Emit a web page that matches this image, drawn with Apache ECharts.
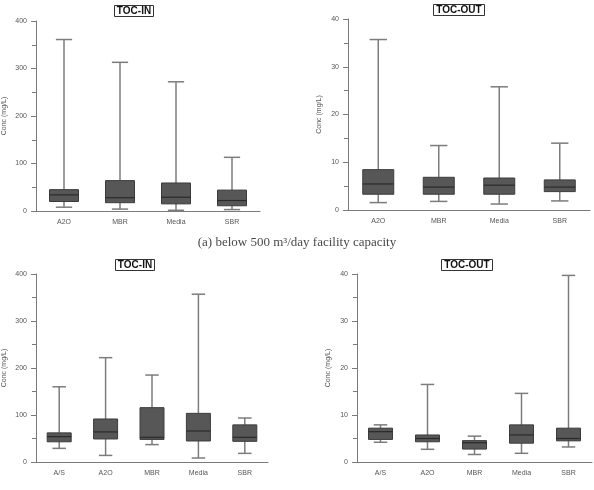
<!DOCTYPE html>
<html>
<head>
<meta charset="utf-8">
<script src="https://cdn.jsdelivr.net/npm/echarts@6/dist/echarts.min.js"></script>
<style>
  html, body { margin: 0; padding: 0; background: #fff; }
  #chart { width: 594px; height: 490px; }
</style>
</head>
<body>
<div id="chart"></div>
<script>
// categories
var catsSmall = ['A2O', 'MBR', 'Media', 'SBR'];
var catsLarge = ['A/S', 'A2O', 'MBR', 'Media', 'SBR'];

// [min, Q1, median, Q3, max] in mg/L
var tocInSmall = [
  [8, 20, 34, 45, 361],
  [4, 17.5, 28, 64, 313],
  [1.5, 15, 29, 59, 272],
  [3, 11, 22, 44, 113]
];
var tocOutSmall = [
  [1.55, 3.3, 5.45, 8.45, 35.7],
  [1.8, 3.3, 4.8, 6.85, 13.5],
  [1.25, 3.3, 5.2, 6.7, 25.8],
  [1.9, 3.85, 4.8, 6.3, 14.0]
];
var tocInLarge = [
  [29, 43, 54, 62, 160],
  [14, 49, 64, 91.5, 222],
  [37, 48, 52.5, 115.6, 185],
  [8.5, 44.7, 66, 103.5, 357],
  [18.4, 44, 52.5, 79, 93.6]
];
var tocOutLarge = [
  [4.2, 4.8, 6.45, 7.2, 7.9],
  [2.7, 4.3, 5.0, 5.75, 16.5],
  [1.6, 2.75, 4.1, 4.55, 5.5],
  [1.85, 4.0, 5.75, 7.9, 14.6],
  [3.2, 4.5, 5.0, 7.2, 39.7]
];

var inTicks = [0, 100, 200, 300, 400];
var outTicks = [0, 10, 20, 30, 40];

var chart = echarts.init(document.getElementById('chart'));

var axisGray = '#7a7a7a';
var labelGray = '#555';

function xAx(idx, cats) {
  return {
    type: 'category', gridIndex: idx, data: cats,
    axisLine: { lineStyle: { color: axisGray, width: 1 } },
    axisTick: { show: false },
    axisLabel: { fontSize: 7, color: labelGray, margin: 8, fontFamily: 'Liberation Sans' },
    splitLine: { show: false }
  };
}
function yAx(idx, ticks, gap) {
  return {
    type: 'value', gridIndex: idx,
    min: ticks[0], max: ticks[ticks.length - 1], interval: ticks[1] - ticks[0],
    name: 'Conc (mg/L)', nameLocation: 'middle', nameRotate: 90, nameGap: gap,
    nameTextStyle: { fontSize: 7, color: labelGray, fontFamily: 'Liberation Sans' },
    axisLine: { show: true, lineStyle: { color: axisGray, width: 1 } },
    axisTick: { show: true, length: 5, lineStyle: { color: axisGray } },
    minorTick: { show: true, splitNumber: 2, length: 4, lineStyle: { color: axisGray } },
    axisLabel: { fontSize: 7, color: labelGray, margin: 9, fontFamily: 'Liberation Sans' },
    splitLine: { show: false }
  };
}
// box-and-whisker drawn through the axis scales
function box(idx, rows, w) {
  return {
    type: 'custom', xAxisIndex: idx, yAxisIndex: idx,
    data: rows.map(function (r, i) { return [i].concat(r); }),
    encode: { x: 0, y: [1, 2, 3, 4, 5] },
    renderItem: function (params, api) {
      var i = api.value(0);
      var pMin = api.coord([i, api.value(1)]);
      var pQ1 = api.coord([i, api.value(2)]);
      var pMed = api.coord([i, api.value(3)]);
      var pQ3 = api.coord([i, api.value(4)]);
      var pMax = api.coord([i, api.value(5)]);
      var x = pMed[0], hw = w / 2, cw = w * 0.28;
      var wl = { stroke: '#7c7c7c', lineWidth: 1.5 };
      return {
        type: 'group',
        children: [
          { type: 'line', shape: { x1: x, y1: pMax[1], x2: x, y2: pQ3[1] }, style: wl },
          { type: 'line', shape: { x1: x, y1: pQ1[1], x2: x, y2: pMin[1] }, style: wl },
          { type: 'line', shape: { x1: x - cw, y1: pMax[1], x2: x + cw, y2: pMax[1] }, style: wl },
          { type: 'line', shape: { x1: x - cw, y1: pMin[1], x2: x + cw, y2: pMin[1] }, style: wl },
          { type: 'rect', shape: { x: x - hw, y: pQ3[1], width: w, height: pQ1[1] - pQ3[1] },
            style: { fill: '#575757', stroke: '#3c3c3c', lineWidth: 1 } },
          { type: 'line', shape: { x1: x - hw, y1: pMed[1], x2: x + hw, y2: pMed[1] },
            style: { stroke: '#2a2a2a', lineWidth: 1.2 } }
        ]
      };
    },
    animation: false
  };
}
function ttl(text, x, y) {
  return {
    text: text, left: x, top: y, textAlign: 'center',
    borderColor: '#333', borderWidth: 1, padding: [1, 3],
    textStyle: { fontSize: 10, fontWeight: 'bold', color: '#111', fontFamily: 'Liberation Sans' }
  };
}

var option = {
  backgroundColor: '#fff',
  animation: false,
  title: [
    ttl('TOC-IN', 131, 5),
    ttl('TOC-OUT', 456, 4),
    ttl('TOC-IN', 132, 259),
    ttl('TOC-OUT', 464, 259)
  ],
  grid: [
    { left: 34, top: 21, width: 226, height: 190 },
    { left: 348, top: 19, width: 242, height: 191 },
    { left: 29, top: 274, width: 239, height: 188 },
    { left: 357, top: 274, width: 235, height: 188 }
  ],
  xAxis: [xAx(0, catsSmall), xAx(1, catsSmall), xAx(2, catsLarge), xAx(3, catsLarge)],
  yAxis: [yAx(0, inTicks, 28), yAx(1, outTicks, 25), yAx(2, inTicks, 28), yAx(3, outTicks, 25)],
  series: [
    box(0, tocInSmall, 29),
    box(1, tocOutSmall, 31),
    box(2, tocInLarge, 24),
    box(3, tocOutLarge, 24)
  ],
  graphic: [{
    type: 'text', left: 'center', top: 236,
    style: {
      text: '(a) below 500 m\u00b3/day facility capacity',
      font: '13px "Liberation Serif", serif', fill: '#4a4a4a'
    }
  }]
};
chart.setOption(option);
</script>
</body>
</html>
